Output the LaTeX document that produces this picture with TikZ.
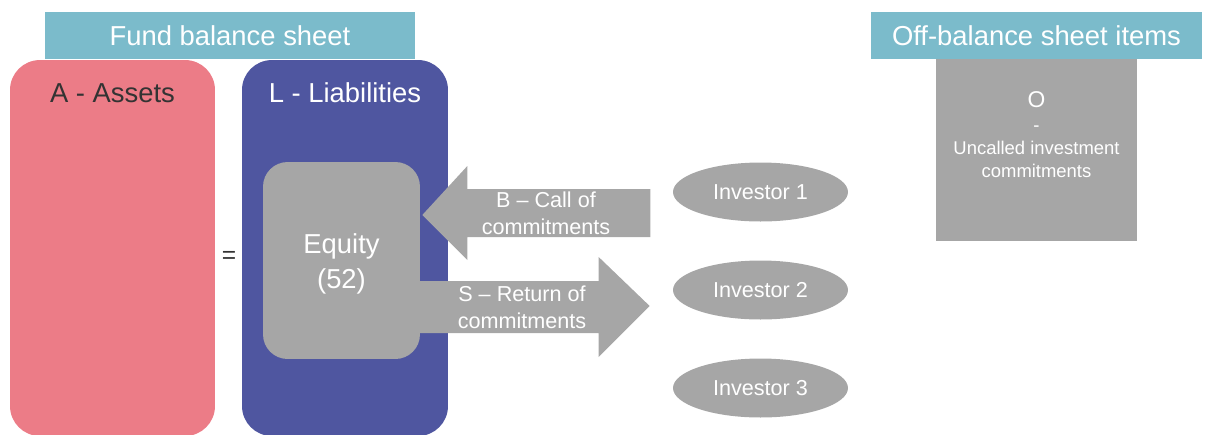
\documentclass[tikz,border=0pt]{standalone}
\usepackage{fontspec}
\setmainfont{Liberation Sans}
\usepackage{tikz}
\usetikzlibrary{calc}
\usetikzlibrary{shapes.geometric}
\usetikzlibrary{positioning}

\definecolor{headblue}{HTML}{7BBBCB}
\definecolor{assetred}{HTML}{EC7C87}
\definecolor{liabblue}{HTML}{4F56A0}
\definecolor{boxgray}{HTML}{A6A6A6}
\definecolor{darktext}{HTML}{333333}

\tikzset{
  bigfont/.style={font=\fontsize{15.6}{19.8}\selectfont},
  midfont/.style={font=\fontsize{12.3}{15.3}\selectfont},
  smallfont/.style={font=\fontsize{10.5}{13.3}\selectfont},
  headbox/.style={fill=headblue, text=white, bigfont, minimum height=0.94cm, inner sep=0pt},
  sidebox/.style={rounded corners=17pt, minimum width=4.1cm, minimum height=7.52cm, inner sep=0pt},
  investor/.style={ellipse, fill=boxgray, text=white, midfont, minimum width=3.5cm, minimum height=1.18cm, inner sep=0pt},
  flowarrow/.style={fill=boxgray},
}

\begin{document}
\begin{tikzpicture}[x=0.02cm, y=-0.02cm]
  \useasboundingbox (0,0) rectangle (1208,434);

  % balance sheet
  \node[headbox, minimum width=7.4cm] (fundhead) at (230,35.5) {Fund balance sheet};
  \node[sidebox, fill=assetred] (assets) at (112.5,248) {};
  \node[sidebox, fill=liabblue, minimum width=4.12cm] (liab) at (345,248) {};
  \node[bigfont, text=darktext] (assetslabel) at (112.5,93) {A - Assets};
  \node[bigfont, text=white] (liablabel) at (345,93) {L - Liabilities};
  \node[font=\fontsize{14}{16}\selectfont, text=darktext] (equals) at (229,257) {=};
  \node[fill=boxgray, rounded corners=14pt, minimum width=3.14cm, minimum height=3.94cm,
        inner sep=0pt] (equity) at (341.5,260.5) {};
  \node[bigfont, text=white, align=center] (equitylabel) at (341.5,264) {Equity\\(52)};

  % investors
  \node[investor] (inv1) at (760.5,192) {Investor 1};
  \node[investor] (inv2) at (760.5,290) {Investor 2};
  \node[investor] (inv3) at (760.5,388) {Investor 3};

  % call and return of commitments
  \coordinate (btip) at ($(equity.east)+(2,-45.5)$);
  \coordinate (send) at ($(inv2.west)+(-23,16)$);
  \fill[flowarrow] (btip) -- ++(45,-49) -- ++(0,23) -- ++(183,0) -- ++(0,48)
    -- ++(-183,0) -- ++(0,23) -- cycle;
  \fill[flowarrow] (send) -- ++(-51,-49) -- ++(0,24) -- ++(-179,0) -- ++(0,52)
    -- ++(179,0) -- ++(0,24) -- cycle;
  \node[midfont, text=white, align=center] (calllabel) at (546,213) {B -- Call of\\commitments};
  \node[midfont, text=white, align=center] (returnlabel) at (522,307) {S -- Return of\\commitments};

  % off-balance sheet
  \node[headbox, minimum width=6.62cm] (offhead) at (1036.5,35.5) {Off-balance sheet items};
  \node[fill=boxgray, minimum width=4.02cm, minimum height=3.64cm, inner sep=0pt] (offbox) at (1036.5,150) {};
  \node[smallfont, text=white, align=center] (offlabel) at (1036.5,135)
    {{\fontsize{13}{13.3}\selectfont O}\\-\\Uncalled investment\\commitments};
\end{tikzpicture}
\end{document}
